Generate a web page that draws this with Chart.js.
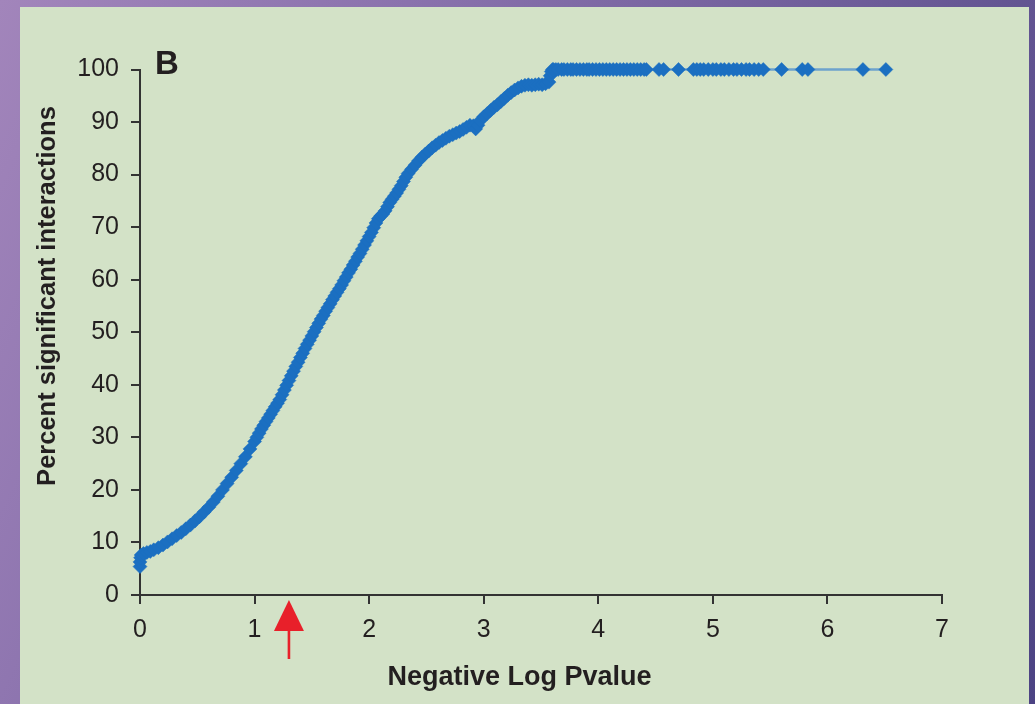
<!DOCTYPE html>
<html><head><meta charset="utf-8">
<script src="https://cdn.jsdelivr.net/npm/chart.js@4.4.1/dist/chart.umd.min.js"></script>
<style>
html,body{margin:0;padding:0;width:1035px;height:704px;overflow:hidden;}
body{background:linear-gradient(115deg,#a285bb 0%,#8a72ad 30%,#6c5b98 65%,#4c4383 100%);position:relative;}
#panel{position:absolute;left:20px;top:7px;width:1009px;height:697px;background:#d3e2c7;}
#wrap{position:absolute;left:0;top:0;width:1035px;height:704px;}
</style></head><body>
<div id="panel"></div>
<div id="wrap"><canvas id="c" width="1035" height="704"></canvas></div>
<script>
// ---- data ----
const negLogP = [
 0, 0, 0.005, 0.01, 0.03, 0.06, 0.09, 0.12, 0.16, 0.20, 0.24, 0.28, 0.32, 0.36, 0.40, 0.44, 0.48, 0.52, 0.56, 0.60,
 0.64, 0.68, 0.72, 0.76, 0.80, 0.84, 0.88, 0.92, 0.96, 1.00,
 1.02, 1.04, 1.06, 1.08, 1.10, 1.12, 1.14, 1.16, 1.18, 1.20, 1.22, 1.24, 1.26, 1.28, 1.30, 1.32, 1.34, 1.36, 1.38, 1.40,
 1.42, 1.44, 1.46, 1.48, 1.50, 1.52, 1.54, 1.56, 1.58, 1.60, 1.62, 1.64, 1.66, 1.68, 1.70, 1.72, 1.74, 1.76, 1.78, 1.80,
 1.82, 1.84, 1.86, 1.88, 1.90, 1.92, 1.94, 1.96, 1.98, 2.00, 2.02, 2.04, 2.06, 2.08, 2.10, 2.12, 2.14, 2.16, 2.18, 2.20,
 2.22, 2.24, 2.26, 2.28, 2.30, 2.32, 2.34,
 2.37, 2.40, 2.43, 2.46, 2.49, 2.52, 2.55, 2.58, 2.61, 2.64, 2.67, 2.70, 2.73, 2.76, 2.79, 2.82, 2.85, 2.88, 2.91, 2.93,
 2.95, 2.97, 3.00, 3.03, 3.06, 3.09, 3.12, 3.15, 3.18, 3.21, 3.24, 3.27, 3.30, 3.33, 3.36, 3.39, 3.42, 3.45, 3.48, 3.51,
 3.54, 3.57, 3.58, 3.59, 3.60,
 3.61, 3.63, 3.65, 3.68, 3.70, 3.73, 3.76, 3.78, 3.81, 3.84, 3.87, 3.90, 3.92, 3.95, 3.98, 4.01, 4.04, 4.07, 4.10, 4.13,
 4.16, 4.19, 4.22, 4.25, 4.28, 4.31, 4.34, 4.37, 4.40, 4.42, 4.53, 4.57, 4.70, 4.83, 4.86, 4.89, 4.92, 4.96, 5.00, 5.03,
 5.07, 5.10, 5.14, 5.18, 5.21, 5.25, 5.29, 5.32, 5.36, 5.40, 5.44, 5.60, 5.78, 5.83, 6.31, 6.51
];
const percentSig = [
 5.4, 6.3, 7.1, 7.6, 7.9, 8.1, 8.3, 8.6, 9.0, 9.5, 10.1, 10.7, 11.3, 11.9, 12.6, 13.3, 14.1, 14.9, 15.8, 16.7,
 17.7, 18.8, 20.0, 21.2, 22.4, 23.7, 25.0, 26.3, 27.8, 29.2,
 30.0, 30.8, 31.6, 32.3, 33.0, 33.7, 34.4, 35.1, 35.8, 36.5, 37.2, 38.1, 39.0, 39.9, 40.8, 41.7, 42.6, 43.5, 44.3, 45.2,
 46.0, 46.9, 47.7, 48.5, 49.3, 50.1, 50.9, 51.7, 52.5, 53.2, 54.0, 54.7, 55.4, 56.2, 56.9, 57.6, 58.3, 59.0, 59.8, 60.5,
 61.3, 62.0, 62.8, 63.5, 64.3, 65.0, 65.8, 66.6, 67.4, 68.2, 69.0, 69.9, 70.8, 71.6, 72.1, 72.5, 73.1, 73.9, 74.7, 75.3,
 75.9, 76.5, 77.2, 77.9, 78.7, 79.5, 80.2,
 81.0, 81.8, 82.6, 83.3, 83.9, 84.5, 85.1, 85.6, 86.1, 86.5, 86.9, 87.3, 87.6, 87.9, 88.2, 88.6, 89.0, 89.4, 89.3, 88.7,
 89.4, 90.3, 91.0, 91.6, 92.2, 92.8, 93.3, 93.9, 94.5, 95.1, 95.6, 96.1, 96.5, 96.8, 97.0, 97.1, 97.0, 97.1, 97.2, 97.1,
 97.3, 97.6, 98.8, 99.6, 100,
 100, 100, 100, 100, 100, 100, 100, 100, 100, 100, 100, 100, 100, 100, 100, 100, 100, 100, 100, 100,
 100, 100, 100, 100, 100, 100, 100, 100, 100, 100, 100, 100, 100, 100, 100, 100, 100, 100, 100, 100,
 100, 100, 100, 100, 100, 100, 100, 100, 100, 100, 100, 100, 100, 100, 100, 100
];
const xTickLabels = ['0','1','2','3','4','5','6','7'];
const yTickLabels = ['0','10','20','30','40','50','60','70','80','90','100'];
const xTitle = 'Negative Log Pvalue';
const yTitle = 'Percent significant interactions';
const panelLetter = 'B';
const arrowAt = 1.30; // -log10(0.05)

const points = negLogP.map((v, i) => ({x: v, y: percentSig[i]}));

const FONT = '"Liberation Sans", Arial, Helvetica, sans-serif';
const INK = '#231f20';

const annot = {
  id: 'annot',
  afterDraw(chart) {
    const {ctx, chartArea: a, scales: {x}} = chart;
    ctx.save();
    // red arrow
    const ax = x.getPixelForValue(arrowAt);
    ctx.fillStyle = '#e8202a';
    ctx.beginPath();
    ctx.moveTo(ax, a.bottom + 5);
    ctx.lineTo(ax + 15, a.bottom + 36);
    ctx.lineTo(ax - 15, a.bottom + 36);
    ctx.closePath();
    ctx.fill();
    ctx.fillRect(ax - 1.3, a.bottom + 34, 2.6, 30);
    // x title
    ctx.fillStyle = INK;
    ctx.textAlign = 'center';
    ctx.textBaseline = 'alphabetic';
    ctx.font = 'bold 27px ' + FONT;
    ctx.fillText(xTitle, a.left + 379.5, a.bottom + 90);
    // y title
    ctx.save();
    ctx.translate(a.left - 85, a.top + 226.5);
    ctx.rotate(-Math.PI / 2);
    ctx.font = 'bold 25.5px ' + FONT;
    ctx.fillText(yTitle, 0, 0);
    ctx.restore();
    // panel letter
    ctx.textAlign = 'left';
    ctx.font = 'bold 33px ' + FONT;
    ctx.fillText(panelLetter, a.left + 15, a.top + 4.5);
    ctx.restore();
  }
};

new Chart(document.getElementById('c'), {
  type: 'scatter',
  data: {
    datasets: [{
      data: points,
      showLine: true,
      borderColor: '#6ea3cd',
      borderWidth: 2.5,
      pointStyle: 'rectRot',
      pointRadius: 7,
      pointBackgroundColor: '#1b6fc1',
      pointBorderColor: '#1b6fc1',
      pointBorderWidth: 0.5,
      clip: false
    }]
  },
  options: {
    responsive: false,
    animation: false,
    devicePixelRatio: 1,
    layout: {padding: {left: 0, top: 69.5, right: 93, bottom: 0}},
    plugins: {legend: {display: false}, tooltip: {enabled: false}},
    scales: {
      x: {
        type: 'linear', min: 0, max: 7,
        afterFit: s => { s.height = 109; },
        ticks: {stepSize: 1, padding: 11, color: INK, font: {size: 25, family: FONT},
                callback: (v, i) => xTickLabels[i]},
        grid: {drawOnChartArea: false, tickLength: 9, color: '#333', lineWidth: 2},
        border: {color: '#333', width: 2}
      },
      y: {
        type: 'linear', min: 0, max: 100,
        afterFit: s => { s.width = 140; },
        ticks: {stepSize: 10, padding: 12, color: INK, font: {size: 25, family: FONT},
                callback: (v, i) => yTickLabels[i]},
        grid: {drawOnChartArea: false, tickLength: 9, color: '#333', lineWidth: 2},
        border: {color: '#333', width: 2}
      }
    }
  },
  plugins: [annot]
});
</script>
</body></html>
